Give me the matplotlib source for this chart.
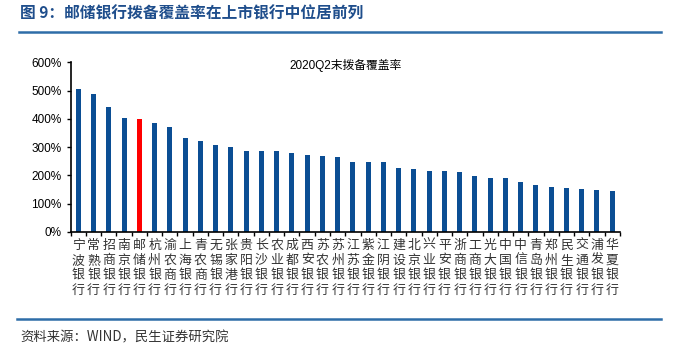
import numpy as np
import matplotlib.pyplot as plt
from matplotlib.ticker import FuncFormatter

plt.rcParams['font.family'] = ['Liberation Sans', 'Noto Sans CJK SC', 'DejaVu Sans']

banks = ["宁波银行", "常熟银行", "招商银行", "南京银行", "邮储银行", "杭州银行",
         "渝农商行", "上海银行", "青农商行", "无锡银行", "张家港行", "贵阳银行",
         "长沙银行", "农业银行", "成都银行", "西安银行", "苏农银行", "苏州银行",
         "江苏银行", "紫金银行", "江阴银行", "建设银行", "北京银行", "兴业银行",
         "平安银行", "浙商银行", "工商银行", "光大银行", "中国银行", "中信银行",
         "青岛银行", "郑州银行", "民生银行", "交通银行", "浦发银行", "华夏银行"]
coverage = [506, 489, 442, 402, 401, 385, 371, 332, 320, 307, 299, 287,
            287, 286, 280, 271, 268, 266, 249, 247, 246, 226, 222, 217,
            216, 211, 197, 190, 189, 178, 165, 159, 155, 151, 148, 144]
highlight = "邮储银行"

blue = '#0B4E94'
colors = ['#FF0000' if b == highlight else blue for b in banks]

fig = plt.figure(figsize=(6.73, 3.45), dpi=100)
ax = fig.add_axes([0.105, 0.328, 0.816, 0.491])

x = np.arange(len(banks))
ax.bar(x, coverage, width=0.33, color=colors)

ax.set_xlim(-0.5, len(banks) - 0.5)
ax.set_ylim(0, 600)
ax.set_yticks(np.arange(0, 601, 100))
ax.yaxis.set_major_formatter(FuncFormatter(lambda v, p: f"{int(v)}%"))
ax.tick_params(axis='y', labelsize=8.5, length=3, width=1, direction='out')

# ticks between bars, labels below each bar written vertically
ax.set_xticks(np.arange(-0.5, len(banks)))
ax.set_xticklabels([])
ax.tick_params(axis='x', length=3, width=1, direction='out')
for i, b in enumerate(banks):
    ax.text(i, -24, "\n".join(b), ha='center', va='top', fontsize=9.3,
            linespacing=1.2, family=['Noto Sans CJK SC'], color='#333333')

for s in ['top', 'right']:
    ax.spines[s].set_visible(False)
ax.spines['left'].set_linewidth(1.2)
ax.spines['bottom'].set_linewidth(1.2)

ax.text(0.5, 0.985, "2020Q2末拨备覆盖率", transform=ax.transAxes, ha='center',
        va='center', fontsize=8.5, family=['Liberation Sans', 'Noto Sans CJK SC'])

fig.text(0.03, 0.962, "图 9：邮储银行拨备覆盖率在上市银行中位居前列", fontsize=11.3,
         fontweight='bold', color='#1F4E8C', va='center',
         family=['Noto Sans CJK SC'])
fig.add_artist(plt.Line2D([0.028, 0.982], [0.907, 0.907], color='#2E6DA8', lw=1.8))
fig.add_artist(plt.Line2D([0.026, 0.982], [0.075, 0.075], color='#2E6DA8', lw=1.8))
fig.text(0.031, 0.022, "资料来源：WIND，民生证券研究院", fontsize=9.6, va='center',
         color='#333333', family=['Noto Sans CJK SC'])

plt.savefig("out.png", dpi=100)
